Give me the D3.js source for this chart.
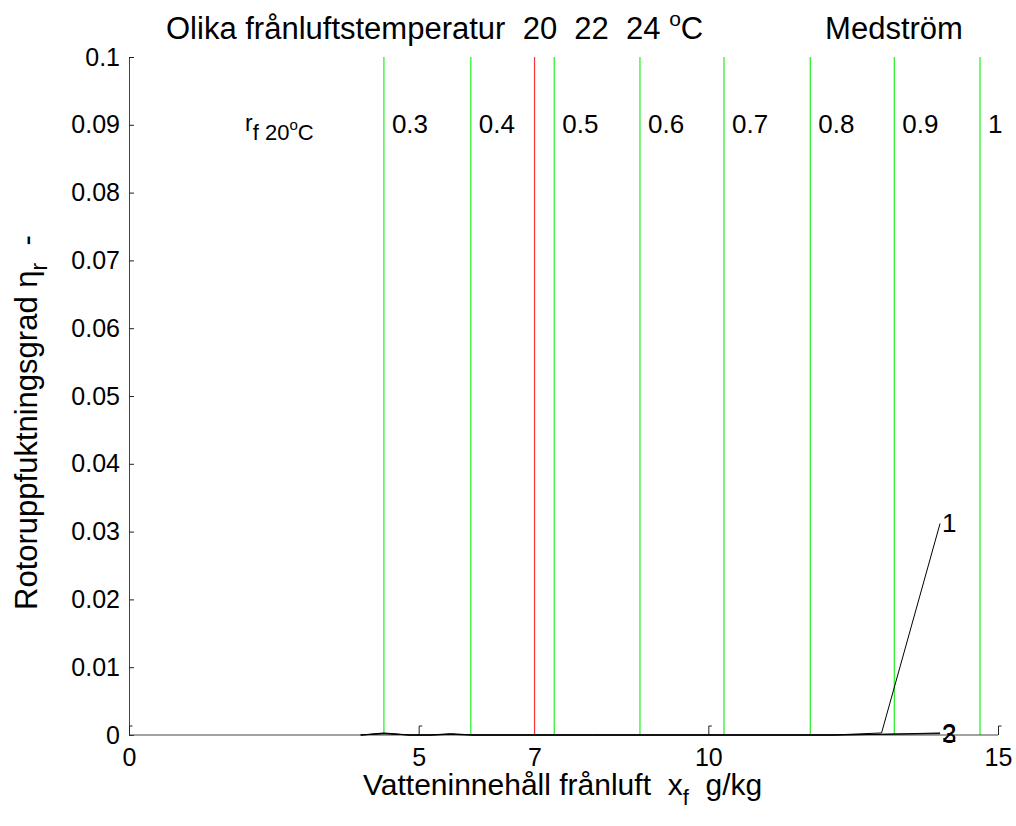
<!DOCTYPE html>
<html><head><meta charset="utf-8">
<script src="https://cdn.jsdelivr.net/npm/d3@7"></script>
<style>
body{margin:0;background:#fff;}
text{font-family:"Liberation Sans",Arial,sans-serif;fill:#000;white-space:pre;}
</style></head>
<body><svg id="c" width="1016" height="826"></svg>
<script>
// ---- data ----
const xTickMarks = [0, 5, 10, 15];
const xTickLabels = [0, 5, 7, 10, 15];
const yTicks = [0, 0.01, 0.02, 0.03, 0.04, 0.05, 0.06, 0.07, 0.08, 0.09, 0.1];
const rfValues = [0.3, 0.4, 0.5, 0.6, 0.7, 0.8, 0.9, 1];
const rfLineX = [4.40, 5.90, 7.34, 8.82, 10.27, 11.76, 13.21, 14.69];
const redLineX = [7.0];
const curveX = [4.0, 4.4, 4.85, 5.2, 5.55, 5.95, 7.0, 8.0, 9.0, 10.0, 11.0, 12.15, 12.99, 14.0];
const curve1 = [0, 0.0003, 0, 0, 0.0002, 0, 0, 0, 0, 0, 0, 0, 0.0003, 0.0312];
const curve2 = [0, 0.0002, 0, 0, 0.0001, 0, 0, 0, 0, 0, 0, 0, 0.0001, 0.0003];
const curve3 = [0, 0.0002, 0, 0, 0.0001, 0, 0, 0, 0, 0, 0, 0, 0.0001, 0.0002];
const curveLabels = ["1", "2", "3"];

const svg = d3.select("#c");
const x = d3.scaleLinear().domain([0, 15]).range([129, 998]);
const y = d3.scaleLinear().domain([0, 0.1]).range([735, 57]);
const FS = 25;   // tick font
const LS = 31;   // label font

// vertical lines
svg.selectAll(".g").data(rfLineX).enter().append("line")
  .attr("x1", d => x(d)).attr("x2", d => x(d)).attr("y1", y(0)).attr("y2", y(0.1))
  .attr("stroke", "#22ee22").attr("stroke-width", 1.2);
svg.selectAll(".r").data(redLineX).enter().append("line")
  .attr("x1", d => x(d)).attr("x2", d => x(d)).attr("y1", y(0)).attr("y2", y(0.1))
  .attr("stroke", "#ff3333").attr("stroke-width", 1.2);

// rf labels
svg.selectAll(".rl").data(rfValues).enter().append("text")
  .attr("x", (d, i) => x(rfLineX[i]) + 8).attr("y", 133)
  .attr("font-size", 26).text(d => d);
const rt = svg.append("text").attr("x", 245).attr("y", 131).attr("font-size", 23);
rt.append("tspan").text("r");
rt.append("tspan").attr("dy", 9).attr("font-size", 22).text("f 20");
rt.append("tspan").attr("dy", -10).attr("font-size", 15).text("o");
rt.append("tspan").attr("dy", 10).attr("font-size", 22).text("C");

// axes
const yAxis = d3.axisLeft(y).tickValues(yTicks).tickSize(-5).tickPadding(9)
  .tickFormat(d => d3.format("~g")(+d.toFixed(3)));
const gy = svg.append("g").attr("transform", `translate(${x(0)},0)`).call(yAxis);
gy.select(".domain").attr("stroke", "#444");
gy.selectAll(".tick line").attr("stroke", "#222");
gy.selectAll("text").attr("font-size", FS).attr("font-family", "Liberation Sans, Arial, sans-serif").attr("fill", "#000");

const xTickAxis = d3.axisBottom(x).tickValues(xTickMarks).tickSize(-9).tickFormat("");
const gx = svg.append("g").attr("transform", `translate(0,${y(0)})`).call(xTickAxis);
gx.select(".domain").attr("stroke", "#444").attr("d", `M${x(0)},0H${x(15)}`);
gx.selectAll(".tick line").attr("stroke", "#222");
gx.selectAll(".tick").append("line").attr("x1", 0).attr("x2", 3).attr("y1", -9).attr("y2", -9).attr("stroke", "#222");
const xLabAxis = d3.axisBottom(x).tickValues(xTickLabels).tickSize(0).tickPadding(13);
const gx2 = svg.append("g").attr("transform", `translate(0,${y(0)})`).call(xLabAxis);
gx2.select(".domain").remove();
gx2.selectAll("text").attr("font-size", FS).attr("font-family", "Liberation Sans, Arial, sans-serif").attr("fill", "#000");

// curves
const line = d3.line().x((d, i) => x(curveX[i])).y(d => y(d));
[curve3, curve2, curve1].forEach(c => {
  svg.append("path").attr("d", line(c)).attr("fill", "none").attr("stroke", "#000").attr("stroke-width", 1);
});
[curve1, curve2, curve3].forEach((c, i) => {
  svg.append("text").attr("x", x(curveX[curveX.length - 1]) + 2).attr("y", y(c[c.length - 1]))
    .attr("dominant-baseline", "central").attr("font-size", 26).text(curveLabels[i]);
});

// title texts
const t1 = svg.append("text").attr("x", 166).attr("y", 39).attr("font-size", LS);
t1.append("tspan").text("Olika frånluftstemperatur  20  22  24 ");
t1.append("tspan").attr("dy", -13).attr("font-size", 21).text("o");
t1.append("tspan").attr("dy", 13).text("C");
svg.append("text").attr("x", 894).attr("y", 39).attr("text-anchor", "middle").attr("font-size", LS).text("Medström");

// x label
const xl = svg.append("text").attr("x", 363).attr("y", 795).attr("font-size", 30);
xl.append("tspan").text("Vatteninnehåll frånluft  x");
xl.append("tspan").attr("dy", 10).attr("font-size", 22).text("f");
xl.append("tspan").attr("dy", -10).text("  g/kg");

// y label
const yl = svg.append("text").attr("transform", "translate(37,610) rotate(-90)").attr("font-size", LS);
yl.append("tspan").text("Rotoruppfuktningsgrad η");
yl.append("tspan").attr("dy", 10).attr("font-size", 23).text("r");
yl.append("tspan").attr("dy", -10).text("  -");
</script></body></html>
